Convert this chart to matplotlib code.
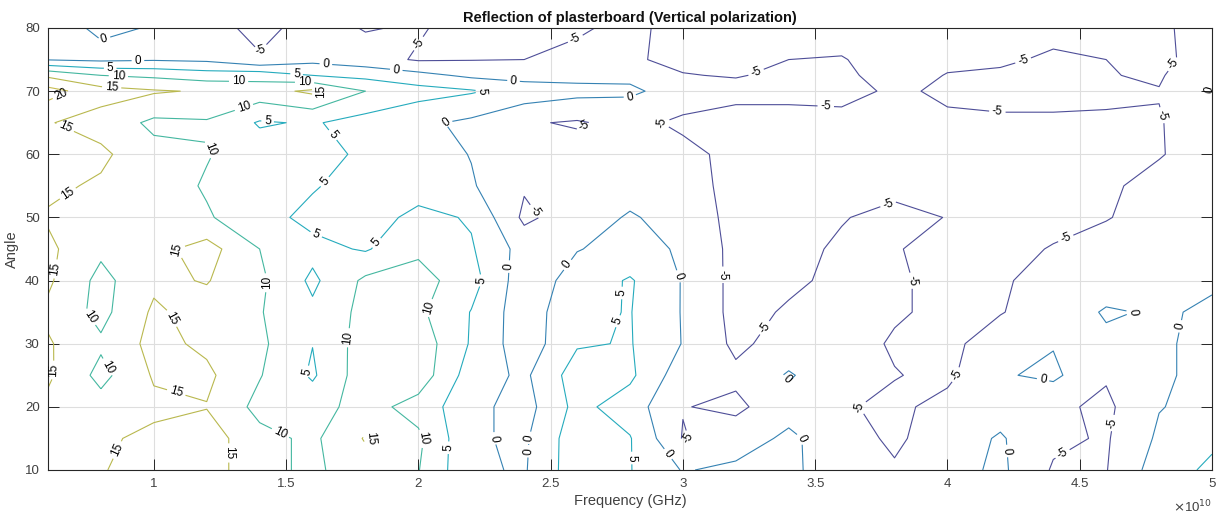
import numpy as np
import matplotlib
matplotlib.use("Agg")
import matplotlib.pyplot as plt

plt.rcParams['font.family'] = ['Liberation Sans', 'DejaVu Sans']

# Frequency axis (units of 1e10 Hz) and incidence angle (deg)
freq = [0.6, 0.8, 1.0, 1.2, 1.4, 1.6, 1.8, 2.0, 2.2, 2.4, 2.6, 2.8, 3.0,
        3.2, 3.4, 3.6, 3.8, 4.0, 4.2, 4.4, 4.6, 4.8, 5.0]
angles = [10, 15, 20, 25, 30, 35, 40, 45, 50, 55, 60, 65, 70, 72.5, 75, 80]

# Reflection values (dB), one list per angle
refl_a10 = [12, 14.7, 17, 17.5, 11.5, 9, 13, 10.2, 0.8, -0.5, 8, 5.2, -0.3, 1, 1.5, -4, -4.5, -2, 1, -5.5, -5.2, 2.5, 6]
refl_a15 = [12.5, 14.3, 16, 17.5, 11.5, 9, 15.4, 11, 0.6, -0.8, 8, 5.3, -5.3, -2.5, 1, -3, -5.8, -2.5, 0.5, -4, -5.5, 0.8, 4]
refl_a20 = [13.8, 12, 14, 14.8, 8.5, 8, 12, 8, 1.5, -2, 6.5, 2.5, -4.8, -6, -2, -4.5, -6, -3.5, -2, -4, -6, -0.2, 1.5]
refl_a25 = [15.8, 8.5, 15.5, 16, 10.3, 4.3, 13, 13, 2.5, -1, 7.5, 6, -3, -4, 0.5, -3.5, -4.8, -6, -0.5, 1, -4.5, -0.6, 1.2]
refl_a30 = [15.5, 10.8, 16.5, 14, 11, 5.1, 12.5, 13, 4.5, -3, 4.5, 5.3, -0.2, -6, -3, -3, -5.5, -6, -3, -0.3, -1, -0.6, 1.2]
refl_a35 = [14, 8.5, 15.8, 13, 10.3, 6, 11.5, 11, 4.8, -3, 4, 5.2, -0.3, -6.5, -4.5, -3, -4.5, -6, -5.2, -3, 0.5, -0.5, 0.6]
refl_a40 = [15.8, 8.5, 14, 15.3, 11, 4, 11, 12, 7, -3, 2, 5.5, -0.3, -6.5, -5.8, -4, -4.5, -6, -5.5, -3.5, -2.5, -1.5, -0.5]
refl_a45 = [16, 11, 13.5, 17, 10, 6.5, 4.5, 9, 5.5, -2, -0.2, 1.5, -0.5, -6.5, -6, -4.5, -4.8, -6, -6, -4.8, -3.5, -3, -2]
refl_a50 = [14.5, 12.5, 13, 10.5, 7, 3.5, 2.5, 6.5, 4.5, -6, -2.5, 0.5, -2, -6.5, -6.5, -5.2, -4, -5.1, -6.5, -6, -5.2, -3.5, -2.5]
refl_a55 = [16, 14.3, 12.5, 9.5, 8, 5.5, 2.5, 2.5, 0.5, -4.5, -3, -2, -3, -6.5, -7, -7, -6, -6.5, -7, -6.5, -5.5, -4, -3]
refl_a60 = [16.5, 16, 11.5, 10.3, 7.5, 8, 3.5, 2.5, -0.2, -3, -3, -2.5, -3.5, -6.5, -7, -7.5, -7.5, -7.5, -7.5, -7, -6, -5.2, -3.5]
refl_a65 = [15.3, 13, 9, 9.5, 4.5, 5.5, 3, 1, -1, -4.5, -5.5, -3.5, -6, -7, -7, -6, -6.5, -5.5, -5.5, -5.5, -5.5, -5.3, -2]
refl_a70 = [22, 17, 15.5, 14.5, 13, 16, 10, 7, 5.5, 3, 1.5, 0.8, -2, -3.5, -3.5, -4, -5.5, -4.5, -4, -4, -4.3, -4.8, 0.3]
refl_a72 = [14, 10, 9, 7.5, 8, 5, 3.5, 1.5, -1, -2, -1.5, -1, -4.8, -5.3, -4, -4.5, -6, -4.9, -4.5, -4.5, -4.8, -5.5, -1]
refl_a75 = [-0.3, -1, -0.5, -1, -4.5, -1.5, -3, -5.5, -5.2, -5, -4, -4.5, -6, -5.8, -5, -4.8, -6.5, -5.5, -5.5, -4.5, -5, -6, -3]
refl_a80 = [-1.5, 0.6, -0.2, -3, -6.5, -3, -5.3, -4.5, -7, -7, -5.5, -4, -6.5, -7, -7, -6.5, -7, -7, -6.5, -6, -6, -5.8, -3]

levels = [-5, 0, 5, 10, 15, 20]
xticks = [1, 1.5, 2, 2.5, 3, 3.5, 4, 4.5, 5]
xtick_labels = ['1', '1.5', '2', '2.5', '3', '3.5', '4', '4.5', '5']
yticks = [10, 20, 30, 40, 50, 60, 70, 80]

# approximate places of the inline level labels (layout only)
label_places = [(0.81, 78.6), (0.94, 74.6), (0.835, 73.2), (0.865, 71.5), (0.84, 70.2),
                (0.66, 68.6), (0.66, 63.8), (0.66, 54.7), (0.65, 41.7), (0.62, 25.8),
                (0.69, 32.2), (0.82, 26.2), (0.82, 14.0), (1.09, 34.5), (1.07, 44.5),
                (1.09, 23.0), (1.37, 12.7), (1.21, 60.7), (1.34, 67.5), (1.32, 70.2),
                (1.43, 65.1), (1.41, 76.2), (1.65, 74.1), (1.54, 72.9), (1.57, 71.8),
                (1.64, 69.1), (1.54, 59.4), (1.62, 48.0), (1.69, 63.5), (1.83, 46.4),
                (1.44, 39.6), (1.5, 26.3), (1.7, 31.1), (1.46, 14.3), (1.91, 14.3),
                (2.06, 35.3), (2.06, 15.2), (2.13, 13.5), (2.23, 14.3), (2.27, 40.1),
                (2.35, 42.2), (2.38, 15.5), (2.45, 12.9), (2.58, 42.0), (2.69, 34.5),
                (2.79, 38.0), (2.81, 11.9), (2.93, 12.1), (3.0, 40.9), (3.12, 40.9),
                (3.06, 14.0), (3.32, 32.2), (3.38, 23.9), (3.49, 15.5), (3.77, 52.8),
                (3.92, 40.6), (3.66, 20.0), (4.06, 24.6), (4.35, 21.6), (4.29, 13.2),
                (4.46, 10.8), (4.63, 17.4), (4.73, 33.0), (4.91, 32.5),
                (4.45, 46.4), (4.84, 66.5), (4.87, 73.7), (4.98, 70.5), (4.28, 75.7),
                (4.19, 67.3), (3.54, 67.6), (3.27, 73.7), (2.9, 63.8), (2.81, 67.5),
                (2.36, 71.8), (2.24, 70.0), (2.1, 66.2), (1.92, 74.9), (1.97, 78.4),
                (2.6, 77.6), (2.45, 51.2), (2.63, 64.3)]

Z = np.array([refl_a10, refl_a15, refl_a20, refl_a25, refl_a30, refl_a35, refl_a40,
              refl_a45, refl_a50, refl_a55, refl_a60, refl_a65, refl_a70, refl_a72,
              refl_a75, refl_a80])

W, H = 1219, 514
fig = plt.figure(figsize=(W / 100, H / 100), dpi=100)
ax = fig.add_axes([48 / W, 44 / H, 1164 / W, 442 / H])

line_colors = ['#4e4e98', '#3582b3', '#25abbd', '#44b7a0', '#b9b84e', '#c8bd52']
cs = ax.contour(freq, angles, Z, levels=levels, colors=line_colors, linewidths=0.8)
ax.clabel(cs, inline=True, fontsize=8.5, fmt='%d', colors='k',
          manual=label_places, inline_spacing=3)

ax.set_xlim(0.6, 5.0)
ax.set_ylim(10, 80)
ax.set_xticks(xticks)
ax.set_xticklabels(xtick_labels)
ax.set_yticks(yticks)
ax.grid(True, color='#dedede', linewidth=0.8)
ax.set_axisbelow(True)
ax.tick_params(direction='in', length=8, width=0.7, top=True, right=True,
               labelsize=9.5, colors='#262626', labelcolor='#404040', pad=6)
for sp in ax.spines.values():
    sp.set_color('#262626')
    sp.set_linewidth(0.8)

ax.set_title('Reflection of plasterboard (Vertical polarization)', fontsize=10.5,
             fontweight='bold', color='#111111', pad=4)
ax.set_xlabel('Frequency (GHz)', fontsize=10.5, color='#404040', labelpad=3)
ax.set_ylabel('Angle', fontsize=10.5, color='#404040', labelpad=4)
ax.text(1.0, -0.065, r'$\times$10$^{10}$', transform=ax.transAxes, ha='right', va='top',
        fontsize=9.5, color='#404040')

fig.savefig('out.png', dpi=100)
